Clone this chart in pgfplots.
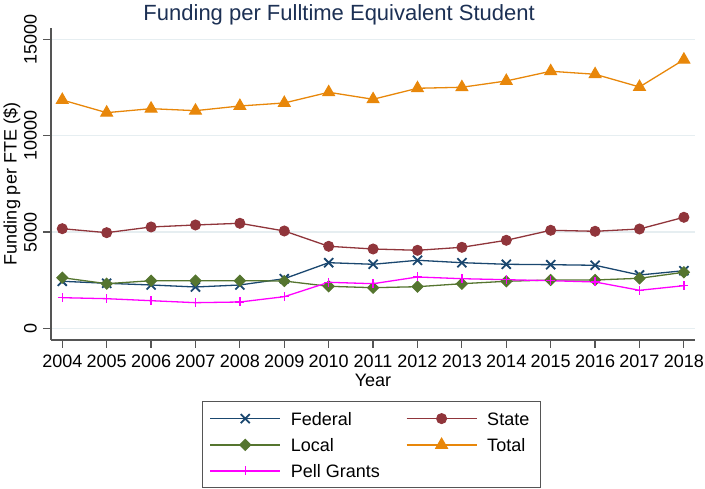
\documentclass[border=0pt]{standalone}
\usepackage{pgfplots}
\pgfplotsset{compat=1.18}
\usepackage{fontspec}
\setmainfont{Liberation Sans}
\definecolor{stnavy}{RGB}{26,71,111}
\definecolor{stmaroon}{RGB}{144,53,59}
\definecolor{stgreen}{RGB}{85,117,47}
\definecolor{storange}{RGB}{232,135,10}
\definecolor{stmag}{RGB}{255,0,255}
\definecolor{sttitle}{RGB}{28,48,84}
\definecolor{stgrid}{RGB}{230,238,241}
\definecolor{staxis}{RGB}{85,85,85}

\pgfplotstableread{
year federal state local total pell
2004 2443 5177 2630 11867 1591
2005 2339 4970 2318 11207 1539
2006 2251 5266 2474 11415 1435
2007 2147 5370 2474 11311 1331
2008 2251 5458 2474 11555 1367
2009 2578 5058 2457 11711 1643
2010 3410 4262 2183 12267 2391
2011 3327 4122 2110 11903 2318
2012 3535 4054 2162 12475 2667
2013 3410 4210 2318 12527 2578
2014 3327 4574 2443 12855 2526
2015 3306 5094 2511 13359 2474
2016 3275 5042 2511 13203 2407
2017 2770 5161 2599 12543 1975
2018 2994 5770 2911 13962 2214
}\datatable

\begin{document}
\begin{tikzpicture}[x=1pt,y=1pt]
\useasboundingbox (0,0) rectangle (705,489);
\begin{axis}[
  at={(51pt,149pt)}, anchor=south west,
  scale only axis, width=644pt, height=312pt,
  xmin=2003.746, xmax=2018.25, ymin=-608, ymax=15608,
  axis x line*=bottom, axis y line*=left,
  axis line style={staxis, line width=1.2pt, -},
  xtick={2004,...,2018}, ytick={0,5000,10000,15000},
  minor tick num=0,
  tick align=outside, major tick length=8pt,
  tick style={staxis, line width=1.2pt},
  ymajorgrids, grid style={stgrid, line width=1.2pt},
  xticklabel shift=7pt, yticklabel shift=6pt,
  scaled ticks=false,
  /pgf/number format/assume math mode=true,
  /pgf/number format/1000 sep={},
  x tick label style={font=\fontsize{18}{20}\selectfont, inner sep=0pt, anchor=north},
  y tick label style={font=\fontsize{18}{20}\selectfont, inner sep=0pt, rotate=90, anchor=south},
  xlabel={Year},
  xlabel style={font=\fontsize{18}{20}\selectfont, at={(axis description cs:0.5,0)}, anchor=base, yshift=-47pt, inner sep=0pt},
  ylabel={Funding per FTE (\$)},
  ylabel style={font=\fontsize{18}{20}\selectfont, at={(axis description cs:-0.0533,0.5)}, anchor=base, inner sep=0pt},
  title={Funding per Fulltime Equivalent Student},
  title style={font=\fontsize{22}{25}\selectfont, color=sttitle, at={(axis description cs:0.1433,1)}, anchor=base west, yshift=1.5pt, inner sep=0pt},
  legend columns=2, legend cell align=left,
  legend style={at={(axis description cs:0.2345,-0.1955)}, anchor=north west,
    draw=staxis, line width=1.2pt, inner xsep=7pt, inner ysep=10.5pt,
    font=\fontsize{18}{20}\selectfont,
    nodes={inner sep=0pt, text height=13pt, text depth=0pt},
    row sep=13pt,
    /tikz/every odd column/.append style={column sep=10pt},
    /tikz/every even column/.append style={column sep=26pt}},
  legend image code/.code={\draw[mark repeat=2, mark phase=2] plot coordinates {(0pt,0pt) (35pt,0pt) (70pt,0pt)};},
]
\addplot[stnavy, line width=1.3pt, mark=x, mark size=6.4pt, mark options={line width=1.8pt}] table[x=year, y=federal] {\datatable};
\addlegendentry{Federal}
\addplot[stmaroon, line width=1.3pt, mark=*, mark size=5pt, mark options={line width=1pt}] table[x=year, y=state] {\datatable};
\addlegendentry{\makebox[46pt][l]{State}}
\addplot[stgreen, line width=1.3pt, mark=square*, mark size=3.9pt, mark options={rotate=45, line width=1pt}] table[x=year, y=local] {\datatable};
\addlegendentry{Local}
\addplot[storange, line width=1.3pt, mark=triangle*, mark size=6.8pt, mark options={line width=1pt}] table[x=year, y=total] {\datatable};
\addlegendentry{Total}
\addplot[stmag, line width=1.3pt, mark=+, mark size=4.5pt, mark options={line width=1.5pt}] table[x=year, y=pell] {\datatable};
\addlegendentry{Pell Grants}
\end{axis}
\end{tikzpicture}
\end{document}
